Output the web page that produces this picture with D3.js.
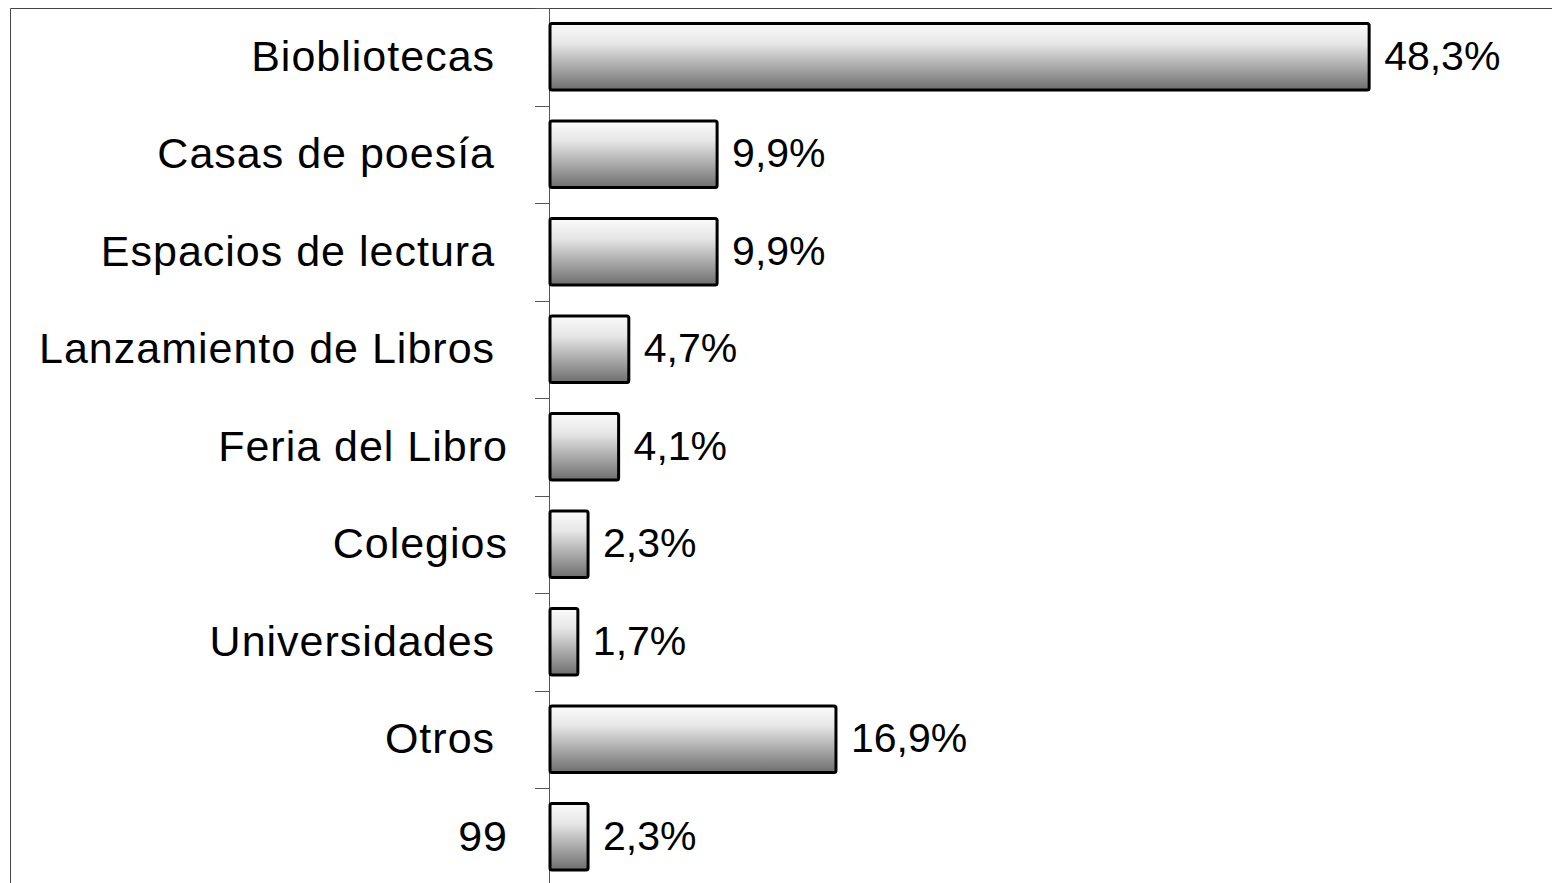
<!DOCTYPE html>
<html>
<head>
<meta charset="utf-8">
<script src="https://cdn.jsdelivr.net/npm/d3@7/dist/d3.min.js"></script>
<style>
  html, body { margin: 0; padding: 0; background: #fff; overflow: hidden; }
  svg { display: block; }
  text { font-family: Arial, "Liberation Sans", sans-serif; fill: #000; white-space: pre; }
</style>
</head>
<body>
<div id="chart"></div>
<script>
/* Chart data */
const categories = [
  'Biobliotecas ', 'Casas de poesía ', 'Espacios de lectura ',
  'Lanzamiento de Libros ', 'Feria del Libro', 'Colegios',
  'Universidades ', 'Otros ', '99'
];
const values = [48.3, 9.9, 9.9, 4.7, 4.1, 2.3, 1.7, 16.9, 2.3];
const valueLabels = ['48,3%', '9,9%', '9,9%', '4,7%', '4,1%', '2,3%', '1,7%', '16,9%', '2,3%'];

const width = 1552;
const height = 883;
const margin = {top: 8, left: 549};
const plotHeight = 877.5;

const svg = d3.select('#chart')
    .append('svg')
    .attr('width', width)
    .attr('height', height);

/* Bar gradient */
const grad = svg.append('defs')
    .append('linearGradient')
    .attr('id', 'barGrad')
    .attr('x1', 0).attr('y1', 0)
    .attr('x2', 0).attr('y2', 1);
grad.append('stop').attr('offset', '0%').attr('stop-color', '#fbfbfb');
grad.append('stop').attr('offset', '30%').attr('stop-color', '#e6e6e6');
grad.append('stop').attr('offset', '100%').attr('stop-color', '#6e6e6e');

/* Outer frame */
svg.append('path')
    .attr('d', `M10.5,${height + 5} L10.5,${margin.top + 0.5} L${width + 5},${margin.top + 0.5}`)
    .attr('fill', 'none')
    .attr('stroke', '#444')
    .attr('stroke-width', 1);

const x = d3.scaleLinear()
    .domain([0, 50])
    .range([margin.left, margin.left + 849]);

const y = d3.scaleBand()
    .domain(categories)
    .range([margin.top, margin.top + plotHeight])
    .paddingInner(0.32)
    .paddingOuter(0.16);

const step = y.step();

/* Category axis line and ticks at band boundaries */
svg.append('line')
    .attr('x1', margin.left + 0.5).attr('x2', margin.left + 0.5)
    .attr('y1', margin.top).attr('y2', height)
    .attr('stroke', '#555')
    .attr('stroke-width', 1);

svg.append('g')
    .selectAll('line')
    .data(d3.range(categories.length + 1))
    .join('line')
    .attr('x1', margin.left - 14)
    .attr('x2', margin.left)
    .attr('y1', i => Math.round(margin.top + i * step) + 0.5)
    .attr('y2', i => Math.round(margin.top + i * step) + 0.5)
    .attr('stroke', '#555')
    .attr('stroke-width', 1);

/* Bars */
svg.append('g')
    .selectAll('rect')
    .data(values)
    .join('rect')
    .attr('x', x(0) + 1)
    .attr('y', (d, i) => y(categories[i]))
    .attr('width', d => x(d) - x(0) - 1)
    .attr('height', y.bandwidth())
    .attr('rx', 2)
    .attr('fill', 'url(#barGrad)')
    .attr('stroke', '#000')
    .attr('stroke-width', 3);

/* Value labels */
svg.append('g')
    .selectAll('text')
    .data(values)
    .join('text')
    .attr('x', d => x(d) + 15)
    .attr('y', (d, i) => y(categories[i]) + y.bandwidth() / 2 + 13)
    .attr('font-size', 41)
    .text((d, i) => valueLabels[i]);

/* Category labels */
svg.append('g')
    .selectAll('text')
    .data(categories)
    .join('text')
    .attr('x', 508)
    .attr('y', d => y(d) + y.bandwidth() / 2 + 14)
    .attr('text-anchor', 'end')
    .attr('font-size', 43)
    .attr('letter-spacing', 1)
    .text(d => d);
</script>
</body>
</html>
